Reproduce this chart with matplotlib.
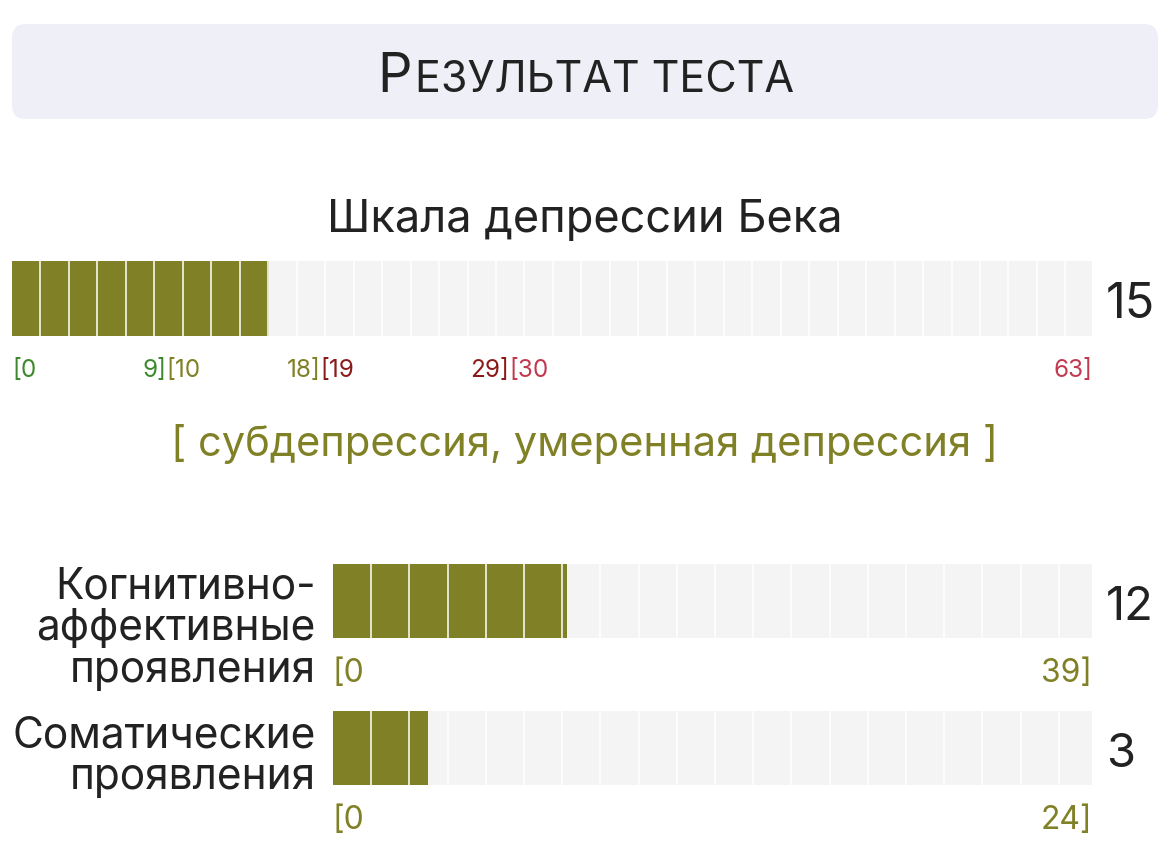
import numpy as np
import matplotlib
matplotlib.use("Agg")
import matplotlib.pyplot as plt
import matplotlib.transforms as mtransforms
from matplotlib.patches import FancyBboxPatch

plt.rcParams['font.family'] = ['Inter', 'DejaVu Sans']

# data
title_first = "Р"
title_rest = "ЕЗУЛЬТАТ ТЕСТА"
beck_title = "Шкала депрессии Бека"
beck_score = 15
beck_max = 63
beck_bounds = [0, 9, 18, 29, 63]
beck_low_labels = ["[0", "[10", "[19", "[30"]
beck_high_labels = ["9]", "18]", "29]", "63]"]
beck_colors = ["#3d8a2e", "#808026", "#8b1a1a", "#c23a4f"]
verdict = "[ субдепрессия, умеренная депрессия ]"

sub_names = ["Когнитивно-\nаффективные\nпроявления", "Соматические\nпроявления"]
sub_scores = [12, 3]
sub_max = [39, 24]

W, H = 1170, 856
olive = "#808026"
empty = "#f4f4f4"
dark = "#222222"


def px(x, y):
    # pixel position -> figure fraction
    return x / W, 1 - y / H


def bar_axes(x0, y0, x1, y1):
    return fig.add_axes([x0 / W, 1 - y1 / H, (x1 - x0) / W, (y1 - y0) / H])


def draw_bar(ax, value, vmax, seg_px, width_px):
    ax.barh(0, vmax, height=1, color=empty)
    ax.barh(0, value, height=1, color=olive)
    step = vmax * seg_px / width_px
    ax.vlines(np.arange(step, vmax - 0.01, step), -0.5, 0.5, color='white', lw=1.1)
    ax.set_xlim(0, vmax)
    ax.set_ylim(-0.5, 0.5)
    ax.axis('off')


fig = plt.figure(figsize=(W / 100, H / 100), dpi=100)

# title box
box = FancyBboxPatch(px(12, 119), 1146 / W, 95 / H, boxstyle="round,pad=0,rounding_size=0.012",
                     transform=fig.transFigure, facecolor="#eeeff7", edgecolor='none',
                     mutation_aspect=W / H)
fig.patches.append(box)
t1 = fig.text(*px(0, 92), title_first, fontsize=39, color=dark, va='baseline')
t2 = fig.text(*px(0, 92), title_rest, fontsize=31, color=dark, va='baseline')
r = fig.canvas.get_renderer()
w1 = t1.get_window_extent(r).width
w2 = t2.get_window_extent(r).width
start = 586 - (w1 + w2 + 3) / 2
t1.set_x(start / W)
t2.set_x((start + w1 + 3) / W)

# Beck scale
fig.text(*px(585, 232), beck_title, fontsize=32.5, color=dark, ha='center', va='baseline')
ax = bar_axes(12, 261, 1092, 336)
draw_bar(ax, beck_score, beck_max, 28.47, 1080)
tr = mtransforms.blended_transform_factory(ax.transData, ax.transAxes)
for lo, hi, lab_lo, lab_hi, c in zip(beck_bounds[:-1], beck_bounds[1:],
                                      beck_low_labels, beck_high_labels, beck_colors):
    ax.text(lo, -0.55, lab_lo, transform=tr, ha='left', va='baseline', fontsize=17.5, color=c)
    ax.text(hi, -0.55, lab_hi, transform=tr, ha='right', va='baseline', fontsize=17.5, color=c)
fig.text(*px(1106, 318), str(beck_score), fontsize=35, color=dark, va='baseline')

fig.text(*px(585, 456), verdict, fontsize=30, color=olive, ha='center', va='baseline')

# sub scales
rows = [(564, 638), (711, 785)]
label_centers = [629, 757]
for name, score, vmax, (y0, y1), yc in zip(sub_names, sub_scores, sub_max, rows, label_centers):
    ax = bar_axes(333, y0, 1092, y1)
    draw_bar(ax, score, vmax, 38.2, 759)
    tr = mtransforms.blended_transform_factory(ax.transData, ax.transAxes)
    ax.text(0, -0.6, "[0", transform=tr, ha='left', va='baseline', fontsize=23, color=olive)
    ax.text(vmax, -0.6, f"{vmax}]", transform=tr, ha='right', va='baseline', fontsize=23, color=olive)
    fig.text(*px(316, yc), name, fontsize=30.5, color=dark, ha='right', va='center',
             multialignment='right', linespacing=1.02)
    fig.text(*px(1106, (y0 + y1) / 2 + 19), str(score), fontsize=34, color=dark, va='baseline')

fig.savefig("out.png", dpi=100)
